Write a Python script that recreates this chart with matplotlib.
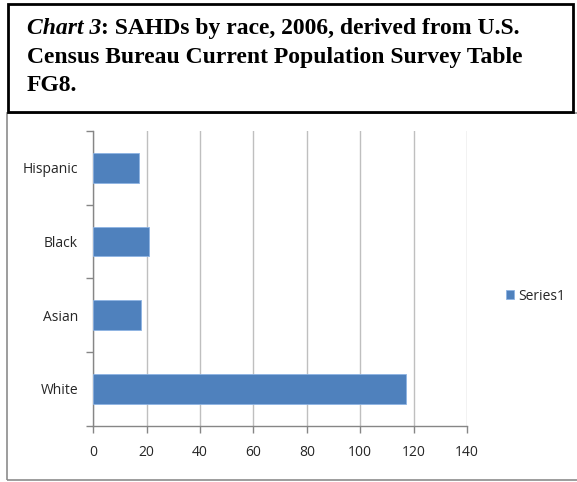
import matplotlib.pyplot as plt
from matplotlib.patches import Rectangle

categories = ["White", "Asian", "Black", "Hispanic"]
values = [117, 18, 21, 17]
x_ticks = [0, 20, 40, 60, 80, 100, 120, 140]
series_name = "Series1"
title_italic = "Chart 3"
title_rest = ": SAHDs by race, 2006, derived from U.S.\nCensus Bureau Current Population Survey Table\nFG8."

W, H = 577, 482
fig = plt.figure(figsize=(W / 100, H / 100), dpi=100)

def fx(px):
    return px / W

def fy(py):
    return 1 - py / H

# Chart area frame (gray)
fig.add_artist(Rectangle((fx(6.5), fy(480)), fx(600) - fx(6.5), fy(113) - fy(480),
                         transform=fig.transFigure, fill=False,
                         edgecolor="#8c8c8c", linewidth=1.2))

# Title box (black)
fig.add_artist(Rectangle((fx(8), fy(112)), fx(573) - fx(8), fy(3.5) - fy(112),
                         transform=fig.transFigure, facecolor="white",
                         edgecolor="black", linewidth=2.0, zorder=5))

serif = "Liberation Serif"
tsize = 17
baselines = [34, 62.5, 91]
t1 = fig.text(fx(27), fy(baselines[0]), title_italic, fontfamily=serif,
              fontstyle="italic", fontweight="bold", fontsize=tsize,
              va="baseline", ha="left", zorder=6)
fig.canvas.draw()
bb = t1.get_window_extent()
x_after = bb.x1 / W
lines = title_rest.split("\n")
fig.text(x_after, fy(baselines[0]), lines[0], fontfamily=serif, fontweight="bold",
         fontsize=tsize, va="baseline", ha="left", zorder=6)
for line, b in zip(lines[1:], baselines[1:]):
    fig.text(fx(27), fy(b), line, fontfamily=serif, fontweight="bold",
             fontsize=tsize, va="baseline", ha="left", zorder=6)

# Plot area
ax = fig.add_axes([fx(93.3), fy(425.7), fx(467) - fx(93.3), fy(131) - fy(425.7)])
ypos = list(range(len(categories)))
ax.barh(ypos, values, height=0.40, color="#4f81bd", edgecolor="#8eb4e3",
        linewidth=0.6, label=series_name, zorder=3)
ax.set_xlim(0, 140)
ax.set_ylim(-0.5, len(categories) - 0.5)
ax.set_xticks(x_ticks)
ax.set_xticklabels([str(v) for v in x_ticks])
ax.set_yticks(ypos)
ax.set_yticklabels(categories)
ax.set_yticks([i - 0.5 for i in range(len(categories) + 1)], minor=True)

ax.grid(axis="x", color="#bfbfbf", linewidth=1.0, zorder=0)
for s in ["top", "right"]:
    ax.spines[s].set_visible(False)
for s in ["left", "bottom"]:
    ax.spines[s].set_color("#868686")
    ax.spines[s].set_linewidth(1.0)

lab_font = "Open Sans"
lsize = 10
ax.tick_params(axis="y", which="major", length=0, pad=11, labelsize=lsize,
               labelcolor="#262626")
ax.tick_params(axis="y", which="minor", length=5, color="#868686", width=1.0)
ax.tick_params(axis="x", which="major", length=5, color="#868686", width=1.0,
               pad=9, labelsize=lsize, labelcolor="#262626")
for lab in ax.get_xticklabels() + ax.get_yticklabels():
    lab.set_fontfamily(lab_font)

leg = fig.legend(loc="center left", bbox_to_anchor=(fx(493), fy(296)),
                 frameon=False, handlelength=0.6, handleheight=0.6,
                 handletextpad=0.3, prop={"family": lab_font, "size": lsize})
for t in leg.get_texts():
    t.set_color("#262626")

fig.savefig("out.png", dpi=100)
